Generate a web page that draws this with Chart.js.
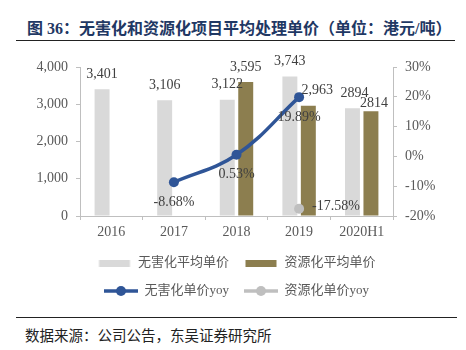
<!DOCTYPE html>
<html>
<head>
<meta charset="utf-8">
<script src="https://cdn.jsdelivr.net/npm/chart.js@4"></script>
<style>
  html,body{margin:0;padding:0;background:#fff;}
  body{width:466px;height:350px;position:relative;overflow:hidden;}
  #title{position:absolute;left:27px;top:15px;font:bold 16px "Liberation Serif","Noto Sans CJK SC",serif;color:#1f3864;white-space:nowrap;}
  .rule{position:absolute;left:16px;height:0;border-top:1.5px solid #222;}
  #src{position:absolute;left:25px;top:324px;font:14.5px "Liberation Serif","Noto Sans CJK SC",serif;color:#222;white-space:nowrap;}
  #wrap{position:absolute;left:0;top:44px;width:466px;height:266px;}
</style>
</head>
<body>
<div id="title">图 36：无害化和资源化项目平均处理单价（单位：港元/吨）</div>
<div class="rule" style="top:40px;width:439px;"></div>
<div id="wrap"><canvas id="c"></canvas></div>
<div class="rule" style="top:317px;width:441px;"></div>
<div id="src">数据来源：公司公告，东吴证券研究所</div>
<script>
// 数据（单位：港元/吨，yoy 为 %）
const categories = ['2016', '2017', '2018', '2019', '2020H1'];
const wuhaiPrice = [3401, 3106, 3122, 3743, 2894];
const ziyuanPrice = [null, null, 3595, 2963, 2814];
const wuhaiYoy = [null, -8.68, 0.53, 19.89, null];
const ziyuanYoy = [null, null, null, -17.58, null];
const wuhaiText = ['3,401', '3,106', '3,122', '3,743', '2894'];
const ziyuanText = ['', '', '3,595', '2,963', '2814'];
const leftTicks = [0, 1000, 2000, 3000, 4000];
const rightTicks = [-20, -10, 0, 10, 20, 30];

const GREY = '#d9d9d9', OLIVE = '#8c7e4f', BLUE = '#2f5597', LGREY = '#bfbfbf';
const AXIS = '#bfbfbf', TXT = '#595959';
const SERIF = '"Liberation Serif", "Noto Sans CJK SC", serif';

// 图例小图标：矩形块 / 带圆点的线
function legendIcon(kind, color){
  const cv = document.createElement('canvas');
  cv.width = 34; cv.height = 12;
  const g = cv.getContext('2d');
  g.fillStyle = color; g.strokeStyle = color;
  if(kind === 'bar'){
    g.fillRect(1.5, 3, 31, 7);
  } else {
    g.lineWidth = 3.5;
    g.beginPath(); g.moveTo(0, 6); g.lineTo(34, 6); g.stroke();
    g.beginPath(); g.arc(17, 6, 5, 0, Math.PI*2); g.fill();
  }
  return cv;
}
const icons = [legendIcon('bar', GREY), legendIcon('bar', OLIVE), legendIcon('line', BLUE), legendIcon('line', LGREY)];

// 数值标签
const valueLabels = {
  id: 'valueLabels',
  afterDatasetsDraw(chart){
    const ctx = chart.ctx;
    ctx.save();
    ctx.font = '14px ' + SERIF;
    ctx.fillStyle = '#404040';
    ctx.textBaseline = 'middle';
    chart.data.datasets.forEach((ds, di) => {
      const meta = chart.getDatasetMeta(di);
      meta.data.forEach((el, i) => {
        const v = ds.data[i];
        if(v === null || v === undefined) return;
        let txt, x = el.x, y = el.y, align = 'center';
        if(di === 0){ txt = wuhaiText[i]; y -= 15; if(i === 4) x += 2; }
        else if(di === 1){
          txt = ziyuanText[i]; y -= 15;
          if(i === 3) x += 9;
          if(i === 4){ x += 3; y += 7; }
        }
        else if(di === 2){ txt = v.toFixed(2) + '%'; y += 20; }
        else { txt = v.toFixed(2) + '%'; x += 13; y -= 2; align = 'left'; }
        ctx.textAlign = align;
        ctx.fillText(txt, x, y);
      });
    });
    ctx.restore();
  }
};

new Chart(document.getElementById('c'), {
  type: 'bar',
  data: {
    labels: categories,
    datasets: [
      {type:'bar', label:'无害化平均单价', data:wuhaiPrice, backgroundColor:GREY, yAxisID:'y', order:2,
       categoryPercentage:0.59, barPercentage:0.81},
      {type:'bar', label:'资源化平均单价', data:ziyuanPrice, backgroundColor:OLIVE, yAxisID:'y', order:2,
       categoryPercentage:0.59, barPercentage:0.81},
      {type:'line', label:'无害化单价yoy', data:wuhaiYoy, borderColor:BLUE, backgroundColor:BLUE, borderWidth:3.5,
       pointRadius:5, pointBackgroundColor:BLUE, pointBorderWidth:0, tension:0.4, yAxisID:'y1', order:1},
      {type:'line', label:'资源化单价yoy', data:ziyuanYoy, borderColor:LGREY, backgroundColor:LGREY, borderWidth:3.5,
       pointRadius:5, pointBackgroundColor:LGREY, pointBorderWidth:0, tension:0.4, yAxisID:'y1', order:1}
    ]
  },
  options: {
    responsive:true, maintainAspectRatio:false, animation:false,
    layout:{padding:{top:23, left:0, right:0, bottom:2.5}},
    plugins:{
      tooltip:{enabled:false},
      legend:{
        position:'bottom', fullSize:false,
        labels:{
          usePointStyle:true, pointStyleWidth:34, padding:15, color:TXT,
          font:{size:13, family:SERIF},
          generateLabels: chart => chart.data.datasets.map((ds, i) => ({
            text: ds.label, pointStyle: icons[i], fillStyle: ds.backgroundColor,
            strokeStyle: ds.backgroundColor, lineWidth: 0, hidden: false, datasetIndex: i, fontColor: TXT
          }))
        }
      }
    },
    scales:{
      x:{
        grid:{display:true, drawOnChartArea:false, drawTicks:true, tickLength:4, color:AXIS, offset:true},
        border:{display:true, color:AXIS, width:1},
        ticks:{color:TXT, font:{size:14, family:SERIF}, padding:4},
        afterFit: s => { s.height = 25.5; }
      },
      y:{
        position:'left', min:0, max:4000,
        afterBuildTicks: s => { s.ticks = leftTicks.map(v => ({value:v})); },
        grid:{display:true, drawOnChartArea:false, drawTicks:true, tickLength:4, color:AXIS},
        border:{display:true, color:AXIS, width:1},
        ticks:{color:TXT, font:{size:14, family:SERIF}, padding:8,
          callback: v => v.toLocaleString('en-US')},
        afterFit: s => { s.width = 80; }
      },
      y1:{
        position:'right', min:-20, max:30,
        afterBuildTicks: s => { s.ticks = rightTicks.map(v => ({value:v})); },
        grid:{display:true, drawOnChartArea:false, drawTicks:true, tickLength:4, color:AXIS},
        border:{display:true, color:AXIS, width:1},
        ticks:{color:TXT, font:{size:14, family:SERIF}, padding:8, callback: v => v + '%'},
        afterFit: s => { s.width = 73; }
      }
    }
  },
  plugins:[valueLabels]
});
</script>
</body>
</html>
